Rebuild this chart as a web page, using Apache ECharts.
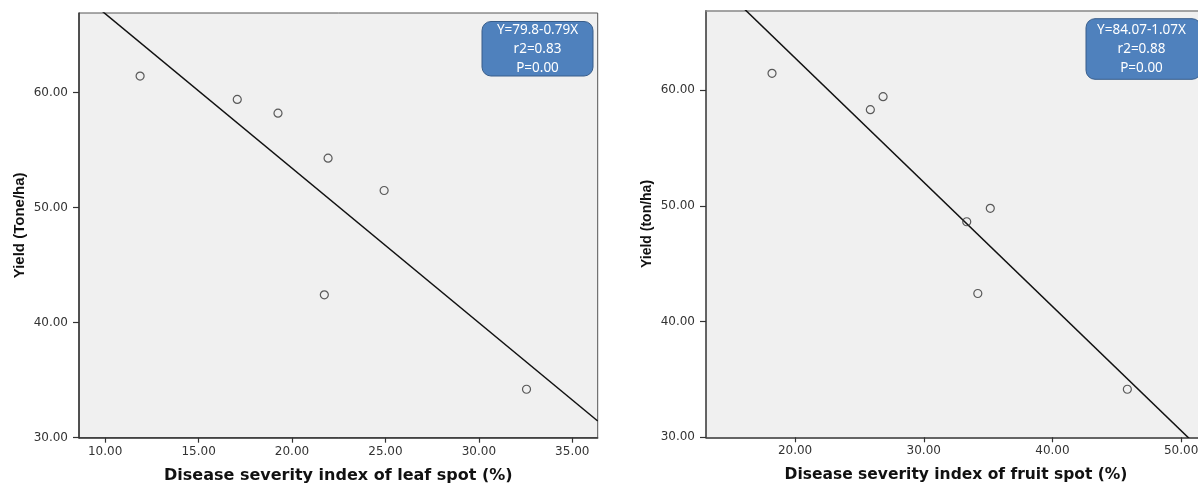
<!DOCTYPE html>
<html>
<head>
<meta charset="utf-8">
<script src="https://cdn.jsdelivr.net/npm/echarts@6/dist/echarts.min.js"></script>
<style>
html,body{margin:0;padding:0;background:#fff;}
#chart{width:1198px;height:483px;}
</style>
</head>
<body>
<div id="chart"></div>
<script>
// ---- Data ----
const leafSeverity = [11.87, 17.07, 19.25, 21.93, 24.93, 21.73, 32.55];
const leafYield    = [61.42, 59.39, 58.20, 54.29, 51.48, 42.41, 34.21];
const fruitSeverity = [18.21, 25.85, 26.84, 33.34, 35.17, 34.20, 45.82];
const fruitYield    = [61.44, 58.30, 59.42, 48.62, 49.78, 42.42, 34.15];

const leafXTicks = [10, 15, 20, 25, 30, 35];
const fruitXTicks = [20, 30, 40, 50];
const yTicks = [30, 40, 50, 60];

const leafEquation = ['Y=79.8-0.79X', 'r2=0.83', 'P=0.00'];
const fruitEquation = ['Y=84.07-1.07X', 'r2=0.88', 'P=0.00'];

const leafXName = 'Disease severity index of leaf spot (%)';
const fruitXName = 'Disease severity index of fruit spot (%)';
const leafYName = 'Yield (Tone/ha)';
const fruitYName = 'Yield (ton/ha)';

// axis extents (layout)
const leafXRange = [8.6, 36.36];
const fruitXRange = [13.08, 51.31];
const leafYRange = [30, 66.9];
const fruitYRange = [30, 66.85];

function ols(xs, ys) {
  const n = xs.length;
  const mx = xs.reduce((a, b) => a + b, 0) / n;
  const my = ys.reduce((a, b) => a + b, 0) / n;
  let sxy = 0, sxx = 0;
  for (let i = 0; i < n; i++) { sxy += (xs[i] - mx) * (ys[i] - my); sxx += (xs[i] - mx) * (xs[i] - mx); }
  const b = sxy / sxx;
  return { a: my - b * mx, b: b };
}
function fitLine(xs, ys, range) {
  const f = ols(xs, ys);
  return [[range[0], f.a + f.b * range[0]], [range[1], f.a + f.b * range[1]]];
}
const zip = (xs, ys) => xs.map((x, i) => [x, ys[i]]);

const labelFont = { fontFamily: 'DejaVu Sans', fontSize: 12, color: '#333' };
const fmt = v => Number(v).toFixed(2);

function xAxis(idx, range, ticks, name, nameSize, namePad) {
  return {
    type: 'value', gridIndex: idx, min: range[0], max: range[1], position: 'bottom',
    name: name, nameLocation: 'middle', nameGap: 30,
    nameTextStyle: { fontFamily: 'DejaVu Sans', fontWeight: 'bold', fontSize: nameSize, color: '#111', padding: namePad },
    axisLine: { show: true, onZero: false, lineStyle: { color: '#333', width: 1.5 } },
    axisTick: { show: true, inside: false, length: 5, customValues: ticks, lineStyle: { color: '#333', width: 1.2 } },
    axisLabel: Object.assign({ margin: 8, customValues: ticks, formatter: fmt }, labelFont),
    splitLine: { show: false }
  };
}
function topBorderAxis(idx, range) {
  return {
    type: 'value', gridIndex: idx, min: range[0], max: range[1], position: 'top',
    axisLine: { show: true, onZero: false, lineStyle: { color: '#888', width: 1.5 } },
    axisTick: { show: false }, axisLabel: { show: false }, splitLine: { show: false }
  };
}
function yAxis(idx, range, ticks, name, nameSize) {
  return {
    type: 'value', gridIndex: idx, min: range[0], max: range[1],
    name: name, nameLocation: 'middle', nameGap: 52,
    nameTextStyle: { fontFamily: 'Liberation Sans', fontWeight: 'bold', fontSize: nameSize, color: '#111' },
    axisLine: { show: true, onZero: false, lineStyle: { color: '#333', width: 1.5 } },
    axisTick: { show: true, inside: false, length: 6, customValues: ticks, lineStyle: { color: '#333', width: 1.2 } },
    axisLabel: Object.assign({ margin: 11, customValues: ticks, formatter: fmt }, labelFont),
    splitLine: { show: false }
  };
}

function scatter(idx, xs, ys) {
  return {
    type: 'scatter', xAxisIndex: idx, yAxisIndex: idx, data: zip(xs, ys),
    symbol: 'circle', symbolSize: 8,
    itemStyle: { color: 'rgba(0,0,0,0)', borderColor: '#333', borderWidth: 1.2 },
    z: 3
  };
}
function regLine(idx, xs, ys, range) {
  return {
    type: 'line', xAxisIndex: idx, yAxisIndex: idx, data: fitLine(xs, ys, range),
    symbol: 'none', clip: true, lineStyle: { color: '#111', width: 1.5 }, z: 2
  };
}

const chart = echarts.init(document.getElementById('chart'), null, { renderer: 'canvas' });
chart.setOption({
  animation: false,
  backgroundColor: '#ffffff',
  grid: [
    { left: 79, top: 13, right: 600.3, bottom: 45.3, show: true, backgroundColor: '#f0f0f0', borderColor: '#555', borderWidth: 1, outerBoundsMode: 'none', containLabel: false },
    { left: 706, top: 10.7, right: 0, bottom: 45.7, show: true, backgroundColor: '#f0f0f0', borderColor: '#f0f0f0', borderWidth: 0, outerBoundsMode: 'none', containLabel: false }
  ],
  xAxis: [
    xAxis(0, leafXRange, leafXTicks, leafXName, 16, 0),
    xAxis(1, fruitXRange, fruitXTicks, fruitXName, 15.5, [0, 0, 0, 8]),
    topBorderAxis(1, fruitXRange)
  ],
  yAxis: [
    yAxis(0, leafYRange, yTicks, leafYName, 15),
    yAxis(1, fruitYRange, yTicks, fruitYName, 14)
  ],
  series: [
    regLine(0, leafSeverity, leafYield, leafXRange),
    scatter(0, leafSeverity, leafYield),
    regLine(1, fruitSeverity, fruitYield, fruitXRange),
    scatter(1, fruitSeverity, fruitYield)
  ],
  graphic: [
    { type: 'rect', z: 10, shape: { x: 482, y: 21.5, width: 111, height: 54.5, r: 9 },
      style: { fill: '#4f81bd', stroke: '#385d8a', lineWidth: 1 } },
    { type: 'text', z: 11, x: 537.5, y: 49.5,
      style: { text: leafEquation.join('\n'), fill: '#ffffff', font: '13.5px "Noto Sans"', align: 'center', verticalAlign: 'middle', textAlign: 'center', textVerticalAlign: 'middle', lineHeight: 19 } },
    { type: 'rect', z: 10, shape: { x: 1086, y: 18.7, width: 115, height: 60.6, r: 9 },
      style: { fill: '#4f81bd', stroke: '#385d8a', lineWidth: 1 } },
    { type: 'text', z: 11, x: 1141.5, y: 49,
      style: { text: fruitEquation.join('\n'), fill: '#ffffff', font: '13.5px "Noto Sans"', align: 'center', verticalAlign: 'middle', textAlign: 'center', textVerticalAlign: 'middle', lineHeight: 19 } }
  ]
});
</script>
</body>
</html>
